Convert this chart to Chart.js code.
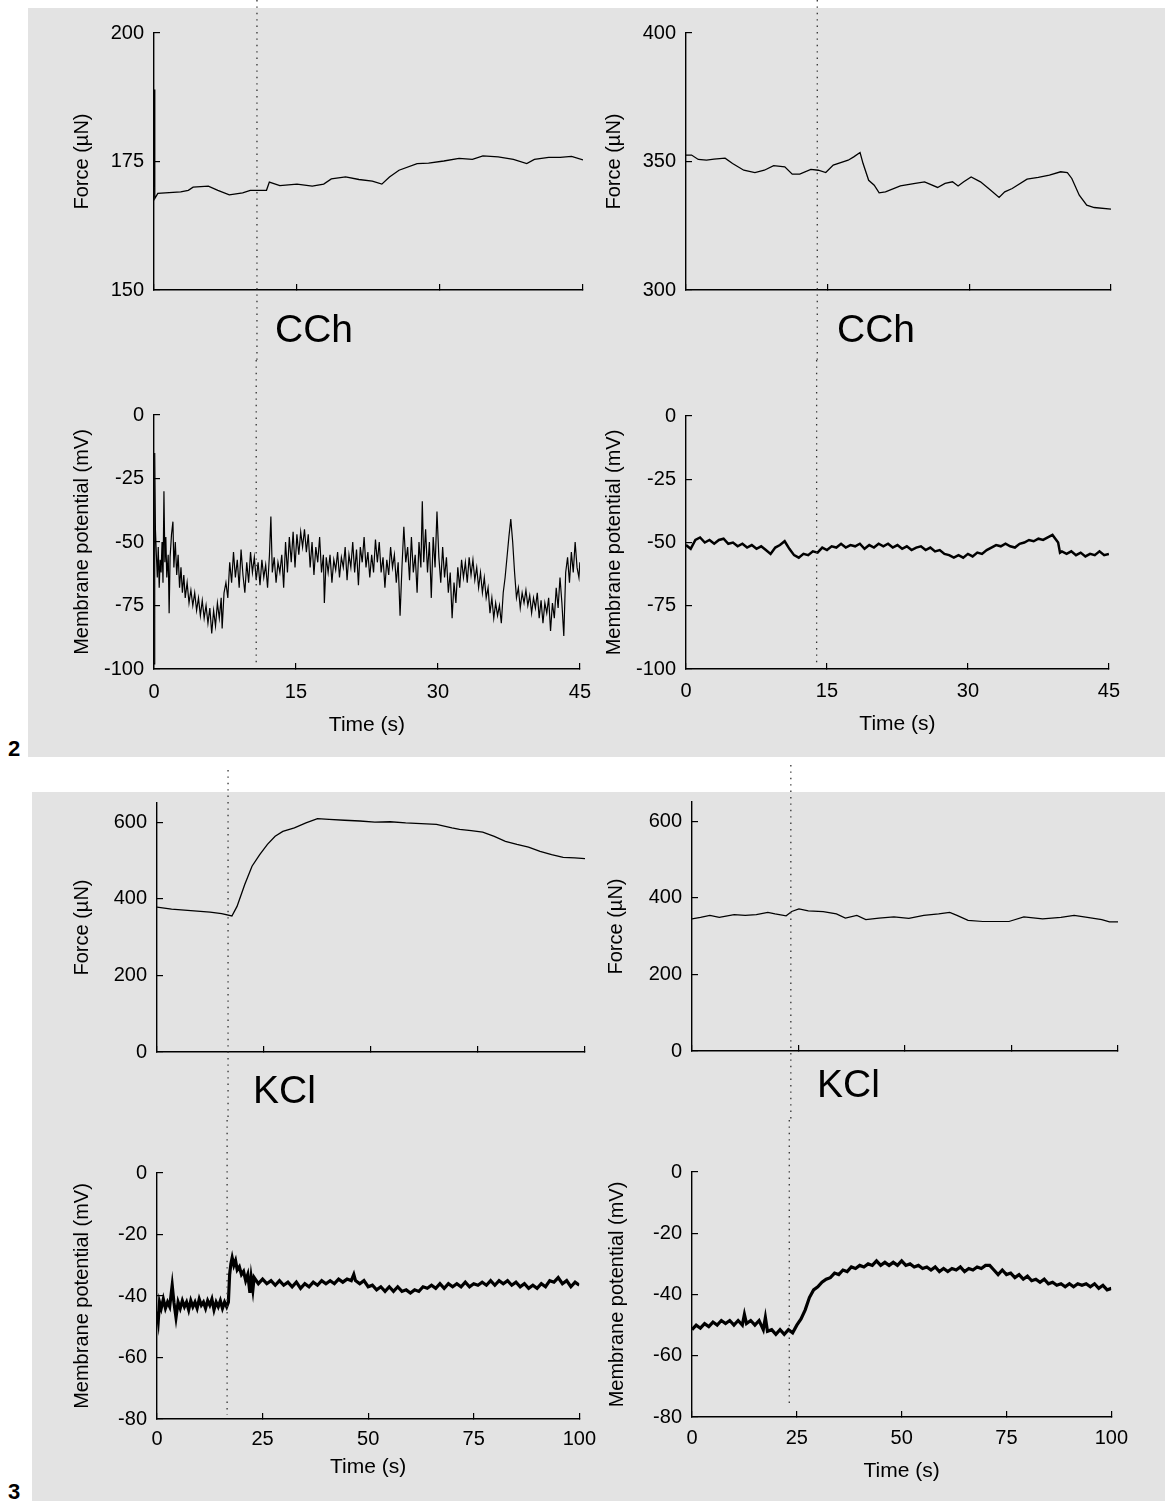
<!DOCTYPE html>
<html>
<head>
<meta charset="utf-8">
<title>Force and membrane potential - CCh / KCl</title>
<script src="https://cdn.jsdelivr.net/npm/chart.js@4.4.1/dist/chart.umd.min.js"></script>
<style>
  body { margin: 0; background: #fff; }
  #page { position: relative; width: 1165px; height: 1501px; overflow: hidden; font-family: 'Liberation Sans', Arial, sans-serif; }
  .panel { position: absolute; background: #e3e3e3; }
  canvas { position: absolute; }
  .drug { position: absolute; font-size: 39px; line-height: 39px; color: #000; }
  .num { position: absolute; font-size: 22px; line-height: 22px; font-weight: bold; color: #000; }
</style>
</head>
<body>
<div id="page">
  <div class="panel" style="left:28px;top:8px;width:1137px;height:749px"></div>
  <div class="panel" style="left:32px;top:792px;width:1133px;height:709px"></div>

  <canvas id="forceCChA" width="538" height="360" style="left:70px;top:0px"></canvas>
  <canvas id="forceCChB" width="534" height="360" style="left:602px;top:0px"></canvas>
  <canvas id="vmCChA" width="538" height="400" style="left:70px;top:360px"></canvas>
  <canvas id="vmCChB" width="534" height="400" style="left:602px;top:360px"></canvas>

  <canvas id="forceKClA" width="540" height="355" style="left:70px;top:765px"></canvas>
  <canvas id="forceKClB" width="539" height="355" style="left:604px;top:765px"></canvas>
  <canvas id="vmKClA" width="540" height="381" style="left:70px;top:1120px"></canvas>
  <canvas id="vmKClB" width="538" height="381" style="left:605px;top:1120px"></canvas>

  <div class="drug" style="left:275px;top:309px">CCh</div>
  <div class="drug" style="left:837px;top:309px">CCh</div>
  <div class="drug" style="left:253px;top:1070px">KCl</div>
  <div class="drug" style="left:817px;top:1064px">KCl</div>

  <div class="num" style="left:8px;top:738px">2</div>
  <div class="num" style="left:8px;top:1481px">3</div>
</div>

<script>
// ---- datos ----

// tiempo de aplicacion del farmaco (s), linea punteada
const cchTimeA = 10.8
const cchTimeB = 13.9
const kclTimeA = 16.6
const kclTimeB = 23.2

// etiquetas de los ejes
const cchTimeTicks = [0, 15, 30, 45]
const kclTimeTicks = [0, 25, 50, 75, 100]
const forceCChATicks = [150, 175, 200]
const forceCChBTicks = [300, 350, 400]
const vmCChTicks = [-100, -75, -50, -25, 0]
const forceKClTicks = [0, 200, 400, 600]
const vmKClTicks = [-80, -60, -40, -20, 0]

// Figura 2, fuerza (uN), celula A
const forceCChATime = [0, 0.08, 0.4, 2.8, 3.6, 4.1, 5.7, 6.7, 7.9, 9.3, 10.1, 11.8, 12.1, 13.2, 15.0, 16.6, 17.8, 18.6, 20.1, 21.5, 22.9, 23.9, 24.7, 25.7, 27.6, 28.8, 30.4, 32.0, 33.4, 34.5, 36.1, 37.7, 39.1, 39.9, 41.4, 42.6, 43.8, 45]
const forceCChAValue = [189, 167.8, 168.8, 169.1, 169.4, 170.0, 170.2, 169.4, 168.5, 168.9, 169.4, 169.4, 171.0, 170.3, 170.6, 170.2, 170.6, 171.6, 172.0, 171.5, 171.2, 170.6, 172.0, 173.3, 174.6, 174.7, 175.1, 175.6, 175.4, 176.1, 175.9, 175.4, 174.6, 175.4, 175.8, 175.8, 176.0, 175.3]

// Figura 2, fuerza (uN), celula B
const forceCChBTime = [0, 0.59, 1.30, 2.17, 2.96, 4.14, 4.93, 6.12, 7.30, 8.29, 9.28, 10.46, 11.25, 12.04, 13.22, 14.01, 14.80, 15.59, 17.17, 17.76, 18.43, 18.75, 19.34, 19.93, 20.45, 21.12, 22.70, 24.27, 25.26, 26.64, 27.43, 28.22, 28.81, 29.41, 30.19, 31.18, 32.17, 33.15, 33.75, 34.54, 36.11, 37.30, 38.48, 39.67, 40.38, 40.85, 41.64, 42.43, 43.22, 45]
const forceCChBValue = [352.5, 352.5, 350.8, 350.5, 350.9, 351.3, 349.2, 346.6, 345.7, 346.6, 348.4, 347.9, 345.1, 345.1, 346.9, 346.6, 345.7, 348.6, 350.5, 351.8, 353.5, 349.2, 342.7, 340.8, 337.8, 338.2, 340.5, 341.5, 342.1, 339.9, 341.5, 342.1, 340.5, 342.1, 344.0, 342.1, 339.1, 336.0, 338.2, 339.5, 343.1, 343.8, 344.7, 346.0, 345.7, 343.4, 336.9, 333.0, 332.1, 331.5]

// Figura 2, potencial de membrana (mV), celula A
const vmCChATime = [0, 0.05, 0.1, 0.15, 0.25, 0.35, 0.45, 0.55, 0.65, 0.75, 0.85, 0.95, 1.05, 1.15, 1.25, 1.35, 1.5, 1.6, 1.7, 1.85,
  2.0, 2.1, 2.25, 2.4, 2.55, 2.7, 2.85, 3.0, 3.15, 3.3, 3.5, 3.7, 3.9, 4.1, 4.3, 4.5, 4.7, 4.9, 5.1, 5.3,
  5.5, 5.7, 5.9, 6.1, 6.3, 6.5, 6.7, 6.9, 7.1, 7.2, 7.4, 7.6, 7.8, 8.0, 8.2, 8.4, 8.6, 8.8, 9.0, 9.2,
  9.4, 9.6, 9.8, 10.0, 10.2, 10.4, 10.6, 10.8, 11.0, 11.2, 11.4, 11.6, 11.8, 12.0, 12.2, 12.35, 12.5, 12.7, 12.9, 13.1,
  13.3, 13.5, 13.7, 13.9, 14.1, 14.3, 14.5, 14.7, 14.9, 15.1, 15.3, 15.5, 15.7, 15.9, 16.1, 16.3, 16.5, 16.7, 16.9, 17.1,
  17.3, 17.5, 17.7, 17.9, 18.0, 18.2, 18.4, 18.6, 18.8, 19.0, 19.2, 19.4, 19.6, 19.8, 20.0, 20.2, 20.4, 20.6, 20.8, 21.0,
  21.2, 21.4, 21.6, 21.8, 22.0, 22.2, 22.4, 22.6, 22.8, 23.0, 23.2, 23.4, 23.6, 23.8, 24.0, 24.2, 24.4, 24.6, 24.8, 25.0,
  25.2, 25.4, 25.6, 25.8, 26.0, 26.2, 26.4, 26.6, 26.8, 27.0, 27.2, 27.4, 27.6, 27.8, 28.0, 28.2, 28.35, 28.5, 28.7, 28.9,
  29.1, 29.3, 29.5, 29.7, 29.9, 30.1, 30.3, 30.5, 30.7, 30.9, 31.1, 31.3, 31.5, 31.7, 31.9, 32.1, 32.3, 32.5, 32.7, 32.9,
  33.1, 33.3, 33.5, 33.7, 33.9, 34.1, 34.3, 34.5, 34.7, 34.9, 35.1, 35.3, 35.5, 35.7, 35.9, 36.1, 36.3, 36.5, 36.7, 36.9,
  37.1, 37.3, 37.5, 37.7, 37.9, 38.1, 38.3, 38.5, 38.7, 38.9, 39.1, 39.3, 39.5, 39.7, 39.9, 40.1, 40.3, 40.5, 40.7, 40.9,
  41.1, 41.3, 41.5, 41.7, 41.9, 42.1, 42.3, 42.5, 42.7, 42.9, 43.1, 43.3, 43.5, 43.7, 43.9, 44.1, 44.3, 44.5, 44.7, 44.9, 45.0]
const vmCChAValue = [-98, -60, -15, -45, -55, -64, -52, -68, -57, -62, -50, -66, -30, -58, -48, -64, -55, -78, -56, -47,
  -42, -60, -50, -63, -55, -68, -60, -70, -63, -72, -66, -74, -69, -75, -70, -77, -72, -79, -73, -80,
  -75, -82, -76, -86, -77, -83, -74, -80, -72, -84, -70, -66, -72, -58, -66, -54, -64, -57, -68, -53,
  -63, -70, -58, -66, -54, -62, -56, -65, -58, -67, -57, -64, -59, -68, -55, -40, -62, -56, -66, -58,
  -62, -55, -68, -50, -62, -48, -58, -46, -60, -47, -55, -46, -52, -45, -54, -47, -60, -50, -63, -52,
  -58, -48, -62, -55, -74, -56, -62, -55, -66, -57, -61, -54, -64, -56, -60, -52, -65, -55, -60, -50,
  -62, -53, -67, -52, -58, -48, -60, -54, -64, -55, -62, -49, -58, -50, -62, -56, -68, -57, -63, -52,
  -60, -55, -66, -58, -79, -60, -44, -58, -52, -65, -48, -62, -55, -70, -50, -60, -34, -58, -45, -62,
  -50, -72, -48, -60, -38, -56, -66, -52, -64, -56, -70, -62, -80, -66, -74, -60, -68, -57, -64, -58,
  -66, -56, -63, -57, -65, -60, -68, -62, -70, -64, -72, -68, -78, -72, -80, -74, -79, -75, -82, -70,
  -64, -56, -48, -41, -50, -62, -72, -68, -76, -70, -74, -69, -75, -71, -78, -72, -76, -70, -80, -73,
  -82, -74, -78, -72, -85, -74, -80, -68, -76, -64, -74, -87, -62, -56, -66, -54, -62, -50, -60, -64, -58]

// Figura 2, potencial de membrana (mV), celula B
const vmCChBTime = [0, 0.5, 1, 1.5, 2, 2.5, 3, 3.5, 4, 4.5, 5, 5.5, 6, 6.5, 7, 7.5, 8, 8.5, 9, 9.5,
  10, 10.5, 11, 11.5, 12, 12.5, 13, 13.5, 14, 14.5, 15, 15.5, 16, 16.5, 17, 17.5, 18, 18.5, 19, 19.5,
  20, 20.5, 21, 21.5, 22, 22.5, 23, 23.5, 24, 24.5, 25, 25.5, 26, 26.5, 27, 27.5, 28, 28.5, 29, 29.5,
  30, 30.5, 31, 31.5, 32, 32.5, 33, 33.5, 34, 34.5, 35, 35.5, 36, 36.5, 37, 37.5, 38, 38.5, 39, 39.3,
  39.6, 39.8, 40, 40.5, 41, 41.5, 42, 42.5, 43, 43.5, 44, 44.5, 45]
const vmCChBValue = [-51, -52.5, -49, -48, -50, -49, -50.5, -49, -48.5, -50.5, -50, -51.5, -50.5, -52, -51, -52.5, -51.5, -53, -54.5, -52,
  -51, -49.5, -52.5, -55, -56, -54.5, -55, -53.5, -54, -52, -53, -51.5, -52, -50.5, -52, -51, -51.5, -50.5, -52.5, -51,
  -52, -50.5, -51.5, -50.5, -52, -51, -52.5, -51.5, -53, -52, -51.5, -53, -52, -53.5, -53, -54.5, -55, -56, -55, -56,
  -54.5, -55.5, -54, -54.5, -53, -52, -51, -51.5, -50.5, -51.5, -52, -50.5, -50, -49, -49.5, -48.5, -49, -48, -47, -48.5,
  -50, -54, -53.5, -54.5, -53.5, -55, -54, -55.5, -54.5, -55, -53.5, -55, -54.5]

// Figura 3, fuerza (uN), celula A
const forceKClATime = [0, 3.4, 7.9, 12.4, 15.1, 17.5, 18.7, 20.5, 22.2, 24.0, 25.8, 27.6, 29.4, 32.1, 34.8, 37.5, 40.2, 43.8, 47.4, 50.9, 54.5, 58.1, 61.7, 65.3, 68.9, 70.7, 73.4, 76.1, 78.8, 81.4, 84.1, 86.8, 89.5, 92.2, 94.9, 97.6, 100]
const forceKClAValue = [378, 373, 369, 365, 361, 355, 380, 437, 485, 515, 542, 563, 576, 585, 598, 609, 607, 605, 603, 600, 601, 598, 596, 594, 585, 581, 578, 574, 563, 550, 542, 535, 524, 515, 508, 507, 505]

// Figura 3, fuerza (uN), celula B
const forceKClBTime = [0, 2.0, 4.2, 6.4, 9.9, 12.5, 15.1, 17.8, 19.5, 22.1, 23.4, 25.1, 27.3, 30.8, 33.9, 36.0, 38.7, 40.8, 43.9, 47.4, 50.9, 54.4, 57.9, 60.5, 62.2, 64.8, 68.3, 74.4, 77.9, 82.3, 86.6, 89.7, 92.8, 96.2, 98.0, 100]
const forceKClBValue = [345, 349, 354, 349, 356, 354, 356, 362, 358, 353, 364, 371, 366, 364, 358, 347, 354, 343, 347, 350, 346, 354, 358, 362, 354, 341, 338, 338, 350, 345, 349, 354, 349, 343, 337, 337]

// Figura 3, potencial de membrana (mV), celula A
const vmKClATime = [0, 0.3, 0.6, 1, 1.5, 2, 2.5, 3, 3.6, 4, 4.5, 5, 5.5, 6, 6.5, 7, 7.5, 8, 8.5, 9,
  9.5, 10, 10.5, 11, 11.5, 12, 12.5, 13, 13.5, 14, 14.5, 15, 15.5, 16, 16.5, 16.9, 17.2, 17.5, 17.8, 18.2,
  18.6, 19, 19.5, 20, 20.5, 21, 21.5, 22, 22.3, 22.7, 23, 24, 25, 26, 27, 28, 29, 30, 31, 32,
  33, 34, 35, 36, 37, 38, 39, 40, 41, 42, 43, 44, 45, 46, 46.6, 47, 48, 49, 50, 51,
  52, 53, 54, 55, 56, 57, 58, 59, 60, 61, 62, 63, 64, 65, 66, 67, 68, 69, 70, 71,
  72, 73, 74, 75, 76, 77, 78, 79, 80, 81, 82, 83, 84, 85, 86, 87, 88, 89, 90, 91,
  92, 93, 94, 95, 96, 97, 98, 99, 100]
const vmKClAValue = [-45, -48, -42, -44, -41, -44, -42, -43.5, -36.5, -42, -47, -42, -44, -41.5, -43.5, -42, -44.5, -41.5, -43.5, -42,
  -44, -41, -43, -42, -44, -41.5, -43, -41, -44.5, -42, -43.5, -41.5, -44, -42, -43.5, -42, -33, -29.5, -27.5, -30,
  -28.5, -31.5, -30.5, -33, -32, -35, -33, -39, -34, -38, -34, -36, -34.5, -36, -35, -36.5, -35, -36.5, -35.5, -37,
  -35.5, -37.5, -36, -37, -35.5, -36.5, -35, -36, -35, -36, -34.5, -35.5, -34.5, -35, -33, -35, -36, -35, -37, -36.5,
  -38, -37, -38.5, -37, -38.5, -37, -38.5, -38, -39, -38, -38.5, -37, -37.5, -36.5, -37.5, -36, -37.5, -36, -37, -36,
  -37, -35.5, -37, -36, -36.5, -35.5, -36.5, -35, -36.5, -35, -36, -35, -36.5, -35.5, -37, -36, -37.5, -36.5, -37.5, -36,
  -37, -35, -35.5, -34, -36, -35, -37, -35.5, -36.5]

// Figura 3, potencial de membrana (mV), celula B
const vmKClBTime = [0, 1, 2, 3, 4, 5, 6, 7, 8, 9, 10, 11, 12, 12.5, 13, 14, 15, 16, 16.5, 17,
  17.5, 18, 19, 20, 21, 22, 23, 24, 25, 26, 27, 28, 29, 30, 31, 32, 33, 34, 35, 36,
  37, 38, 39, 40, 41, 42, 43, 44, 45, 46, 47, 48, 49, 50, 51, 52, 53, 54, 55, 56,
  57, 58, 59, 60, 61, 62, 63, 64, 65, 66, 67, 68, 69, 70, 71, 72, 73, 74, 75, 76,
  77, 78, 79, 80, 81, 82, 83, 84, 85, 86, 87, 88, 89, 90, 91, 92, 93, 94, 95, 96,
  97, 98, 99, 100]
const vmKClBValue = [-51.5, -50, -51, -49.5, -50.5, -49, -50, -48.5, -49.5, -48.5, -50, -48.5, -50, -46.5, -49.5, -48.5, -50, -48.5, -50, -51.5,
  -47.5, -52, -51.5, -53, -51.5, -53, -51.5, -52.5, -50, -48, -45, -41, -38.5, -37.5, -36, -35, -34.5, -33, -33.5, -32,
  -32.5, -31, -31.5, -30.5, -31, -30, -30.5, -29, -30.5, -29.5, -30.5, -29.5, -30.5, -29, -30.5, -30, -31, -30.5, -31.5, -31,
  -32, -31, -32.5, -31.5, -32.5, -31.5, -32, -31, -32.5, -31.5, -32, -31, -31.5, -30.5, -30.5, -32, -33.5, -32, -33.5, -33,
  -34.5, -33.5, -35, -34, -35.5, -35, -36, -35, -36.5, -36, -37, -36.5, -37.5, -36.5, -37.5, -36.5, -37, -36.5, -37.5, -36.5,
  -38, -37, -38.5, -38]

// ---- configuracion general ----
Chart.defaults.font.family = "'Liberation Sans', Arial, sans-serif"
Chart.defaults.color = '#000'

// plugin para la linea punteada vertical (momento del farmaco)
const stimLine = {
  id: 'stimLine',
  afterDraw(chart, args, opts) {
    const x = chart.scales.x.getPixelForValue(opts.time)
    const ctx = chart.ctx
    let yEnd = chart.height
    if (opts.gap !== undefined) yEnd = chart.chartArea.bottom - opts.gap
    ctx.save()
    ctx.setLineDash([1.4, 5])
    ctx.strokeStyle = '#333'
    ctx.lineWidth = 1.3
    ctx.beginPath()
    ctx.moveTo(x, opts.from || 0)
    ctx.lineTo(x, yEnd)
    ctx.stroke()
    ctx.restore()
  }
}

// dibuja un registro (fuerza o potencial) en un canvas
function drawTrace(id, o) {
  const points = o.t.map(function (t, i) { return { x: t, y: o.v[i] } })
  return new Chart(document.getElementById(id), {
    type: 'scatter',
    data: {
      datasets: [{
        data: points,
        showLine: true,
        borderColor: '#000',
        borderWidth: o.lw,
        pointRadius: 0,
        tension: 0
      }]
    },
    options: {
      responsive: false,
      animation: false,
      events: [],
      layout: { padding: { top: o.padTop, right: 25, left: 0, bottom: 0 } },
      plugins: {
        legend: { display: false },
        tooltip: { enabled: false },
        stimLine: { time: o.stim, from: o.dotFrom, gap: o.dotGap }
      },
      scales: {
        x: {
          type: 'linear',
          min: 0,
          max: o.xTicks[o.xTicks.length - 1],
          ticks: { autoSkip: false, display: o.xLabels, padding: o.xPad || 0, font: { size: 20 }, color: '#000', maxRotation: 0 },
          afterBuildTicks: function (s) { s.ticks = o.xTicks.map(function (v) { return { value: v } }) },
          grid: { drawOnChartArea: false, tickLength: -6, color: '#000', lineWidth: 1.2 },
          border: { color: '#000', width: 1.4 },
          title: { display: o.xLabels, text: 'Time (s)', font: { size: 21 }, color: '#000', padding: { top: 0, bottom: o.xTitlePad || 0 } },
          afterFit: function (s) { s.height = o.xH }
        },
        y: {
          min: o.yMin,
          max: o.yMax,
          ticks: { autoSkip: false, padding: 16, font: { size: 20 }, color: '#000' },
          afterBuildTicks: function (s) { s.ticks = o.yTicks.map(function (v) { return { value: v } }) },
          grid: { drawOnChartArea: false, tickLength: -6, color: '#000', lineWidth: 1.2 },
          border: { color: '#000', width: 1.4 },
          title: { display: true, text: o.yTitle, font: { size: 20 }, color: '#000', padding: { top: 0, bottom: 0 } },
          afterFit: function (s) { s.width = o.yW }
        }
      }
    },
    plugins: [stimLine]
  })
}

// ---- figura 2 (CCh) ----
drawTrace('forceCChA', { t: forceCChATime, v: forceCChAValue, lw: 1.3, xTicks: cchTimeTicks, xLabels: false, xH: 70,
  yMin: 150, yMax: 200, yTicks: forceCChATicks, yW: 84, yTitle: 'Force (µN)', padTop: 33, stim: cchTimeA, dotFrom: 0 })
drawTrace('forceCChB', { t: forceCChBTime, v: forceCChBValue, lw: 1.3, xTicks: cchTimeTicks, xLabels: false, xH: 70,
  yMin: 300, yMax: 400, yTicks: forceCChBTicks, yW: 84, yTitle: 'Force (µN)', padTop: 33, stim: cchTimeB, dotFrom: 0 })
drawTrace('vmCChA', { t: vmCChATime, v: vmCChAValue, lw: 1.2, xTicks: cchTimeTicks, xLabels: true, xH: 91, xPad: 17, xTitlePad: 22,
  yMin: -100, yMax: 0, yTicks: vmCChTicks, yW: 84, yTitle: 'Membrane potential (mV)', padTop: 55, stim: cchTimeA, dotFrom: 0, dotGap: 4 })
drawTrace('vmCChB', { t: vmCChBTime, v: vmCChBValue, lw: 2.5, xTicks: cchTimeTicks, xLabels: true, xH: 91, xPad: 16, xTitlePad: 23,
  yMin: -100, yMax: 0, yTicks: vmCChTicks, yW: 84, yTitle: 'Membrane potential (mV)', padTop: 56, stim: cchTimeB, dotFrom: 0, dotGap: 5 })

// ---- figura 3 (KCl) ----
drawTrace('forceKClA', { t: forceKClATime, v: forceKClAValue, lw: 1.3, xTicks: kclTimeTicks, xLabels: false, xH: 68,
  yMin: 0, yMax: 650, yTicks: forceKClTicks, yW: 87, yTitle: 'Force (µN)', padTop: 38, stim: kclTimeA, dotFrom: 5 })
drawTrace('forceKClB', { t: forceKClBTime, v: forceKClBValue, lw: 1.2, xTicks: kclTimeTicks, xLabels: false, xH: 69,
  yMin: 0, yMax: 650, yTicks: forceKClTicks, yW: 88, yTitle: 'Force (µN)', padTop: 37, stim: kclTimeB, dotFrom: 0 })
drawTrace('vmKClA', { t: vmKClATime, v: vmKClAValue, lw: 3.2, xTicks: kclTimeTicks, xLabels: true, xH: 82, xPad: 14, xTitlePad: 21,
  yMin: -80, yMax: 0, yTicks: vmKClTicks, yW: 87, yTitle: 'Membrane potential (mV)', padTop: 53, stim: kclTimeA, dotFrom: 0, dotGap: 4 })
drawTrace('vmKClB', { t: vmKClBTime, v: vmKClBValue, lw: 3.2, xTicks: kclTimeTicks, xLabels: true, xH: 84, xPad: 15, xTitlePad: 17,
  yMin: -80, yMax: 0, yTicks: vmKClTicks, yW: 87, yTitle: 'Membrane potential (mV)', padTop: 52, stim: kclTimeB, dotFrom: 0, dotGap: 10 })
</script>
</body>
</html>
